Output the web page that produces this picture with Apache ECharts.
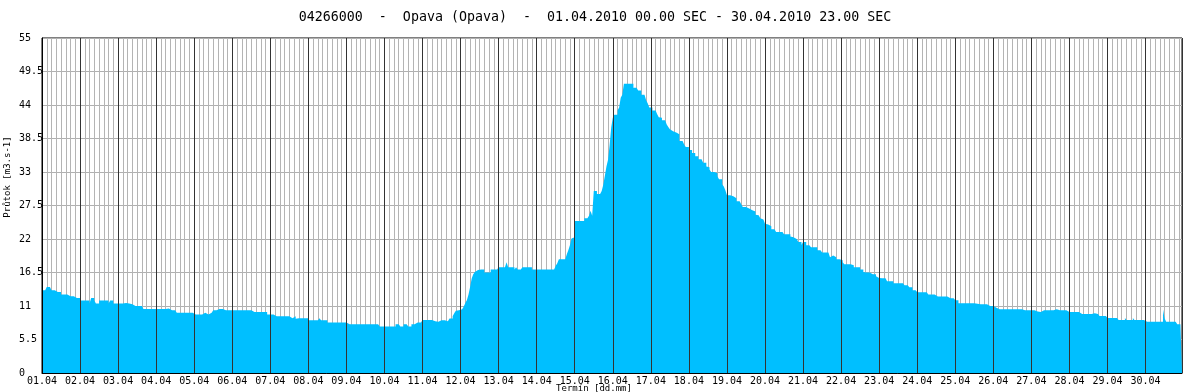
<!DOCTYPE html>
<html><head><meta charset="utf-8">
<script src="https://cdn.jsdelivr.net/npm/echarts@6/dist/echarts.min.js"></script>
<style>html,body{margin:0;padding:0;background:#fff}#c{width:1190px;height:392px}</style>
</head><body><div id="c"></div>
<script>
const titleText = '04266000  -  Opava (Opava)  -  01.04.2010 00.00 SEC - 30.04.2010 23.00 SEC';
const yAxisTitle = 'Průtok [m3.s-1]';
const xAxisTitle = 'Termín [dd.mm]';
const dayLabels = ['01.04','02.04','03.04','04.04','05.04','06.04','07.04','08.04','09.04','10.04',
  '11.04','12.04','13.04','14.04','15.04','16.04','17.04','18.04','19.04','20.04',
  '21.04','22.04','23.04','24.04','25.04','26.04','27.04','28.04','29.04','30.04'];
const yTicks = [0, 5.5, 11, 16.5, 22, 27.5, 33, 38.5, 44, 49.5, 55];
// hourly discharge, one line per day (01.04 ... 30.04)
const flow = [
13.6,13.6,13.6,14.1,14.1,13.8,13.6,13.6,13.6,13.3,13.3,13.3,12.9,12.9,12.9,12.9,12.9,12.6,12.6,12.6,12.6,12.3,12.3,12.3,
11.9,11.9,11.9,11.9,11.9,11.9,11.4,12.3,12.3,11.9,11.4,11.4,11.9,11.9,11.9,11.9,11.9,11.9,11.4,11.9,11.9,11.4,11.4,11.4,
11.4,11.4,11.4,11.4,11.5,11.4,11.4,11.3,11.3,11.0,11.0,11.0,11.0,11.0,11.0,11.0,10.5,10.5,10.5,10.5,10.5,10.5,10.5,10.5,
10.5,10.5,10.5,10.5,10.5,10.5,10.5,10.6,10.3,10.3,10.3,10.3,10.3,9.9,9.9,9.9,9.9,9.9,9.9,9.9,9.9,9.9,9.9,9.6,
9.6,9.6,9.6,9.6,9.6,9.6,9.9,9.6,9.6,9.9,9.9,9.9,10.3,10.3,10.3,10.5,10.5,10.5,10.5,10.3,10.3,10.3,10.3,10.3,
10.3,10.3,10.3,10.3,10.3,10.3,10.3,10.3,10.3,10.3,10.3,10.3,10.0,10.0,10.0,10.0,10.0,10.0,10.0,10.0,10.0,10.0,9.6,9.6,
9.6,9.6,9.6,9.3,9.6,9.3,9.3,9.3,9.3,9.3,9.3,9.3,9.0,9.0,9.0,9.3,8.9,9.0,9.0,9.0,9.0,9.0,9.0,9.0,
8.65,8.65,8.65,8.65,8.65,8.65,8.65,9.0,8.65,8.65,8.65,8.65,8.3,8.3,8.3,8.3,8.3,8.3,8.3,8.3,8.3,8.3,8.3,8.3,
8.0,8.0,8.0,8.0,8.0,8.0,8.0,8.0,8.0,8.0,8.0,8.0,8.0,8.0,8.0,8.0,8.3,8.0,8.0,8.0,8.0,7.65,7.65,7.65,
7.65,7.65,7.65,7.65,7.65,7.65,7.65,8.0,8.0,8.0,7.65,7.65,8.0,8.0,8.0,7.65,7.65,8.0,8.0,8.3,8.3,8.3,8.3,8.3,
8.7,8.7,8.7,8.7,8.7,8.7,8.95,8.5,8.5,8.4,8.4,8.65,8.65,8.65,8.65,8.5,8.5,8.95,8.95,9.3,9.8,10.2,10.3,10.1,
10.45,10.45,10.9,11.5,12.0,12.9,14.1,15.5,16.2,16.6,16.9,17.0,17.0,17.0,17.0,16.5,16.5,16.5,16.5,17.0,17.0,17.0,17.0,17.0,
17.35,17.35,17.35,17.35,17.35,18.17,17.35,17.35,17.35,17.35,17.0,17.35,17.0,17.0,17.0,17.35,17.35,17.35,17.35,17.35,17.35,17.0,17.0,17.0,
17.0,17.0,17.0,17.0,17.0,17.0,17.0,17.0,17.0,17.0,17.0,17.3,17.6,18.0,18.66,18.66,18.66,18.66,18.66,19.5,20.2,21.0,22.1,22.3,
24.96,24.96,24.96,24.96,24.96,24.96,25.4,25.4,25.4,25.8,26.65,25.8,29.9,29.9,29.4,29.4,29.4,29.9,30.9,32.4,33.9,35.0,37.4,40.3,
41.9,42.4,42.4,43.1,43.6,45.2,45.7,47.5,47.5,47.5,47.5,47.5,47.5,46.85,46.85,46.85,46.4,46.4,45.7,45.7,45.7,44.8,44.3,43.6,
43.6,43.1,43.1,42.8,42.5,42.0,41.9,41.5,41.5,41.5,40.8,40.4,40.0,39.7,39.7,39.5,39.2,39.2,38.1,38.1,37.8,37.5,37.1,37.1,
36.6,36.6,36.1,36.1,35.6,35.6,35.1,35.1,35.0,34.5,34.5,33.9,33.8,33.4,33.0,33.0,33.0,32.8,32.3,31.8,31.8,31.0,30.6,30.0,
29.2,29.2,29.2,29.0,28.7,28.7,28.2,28.2,27.9,27.7,27.25,27.25,27.25,27.0,26.7,26.7,26.7,26.5,26.0,25.9,25.9,25.4,25.2,24.96,
24.5,24.4,24.1,24.1,23.6,23.6,23.6,23.15,23.15,23.15,23.15,23.15,22.8,22.8,22.8,22.8,22.4,22.3,22.0,22.0,22.0,21.5,21.5,21.0,
21.5,21.5,20.96,20.96,20.96,20.63,20.63,20.63,20.63,20.14,20.14,20.14,19.8,19.8,19.8,19.8,19.48,18.99,19.3,18.99,18.99,18.66,18.66,18.66,
18.5,18.17,17.84,17.84,17.84,17.84,17.84,17.7,17.35,17.35,17.35,17.35,17.0,17.0,16.6,16.5,16.5,16.5,16.4,16.2,16.2,16.2,15.87,15.6,
15.54,15.54,15.54,15.54,15.54,15.05,15.05,15.05,15.05,14.72,14.72,14.72,14.72,14.72,14.72,14.72,14.39,14.39,14.2,14.06,14.06,13.57,13.57,13.57,
13.24,13.24,13.24,13.24,13.24,13.24,13.24,12.9,12.9,12.9,12.9,12.9,12.58,12.58,12.58,12.58,12.58,12.26,12.58,12.58,12.26,12.26,12.26,12.26,
11.93,11.93,11.44,11.44,11.44,11.44,11.44,11.44,11.44,11.44,11.44,11.44,11.3,11.35,11.44,11.27,11.27,11.27,11.27,11.27,11.0,11.0,11.0,11.0,
10.9,10.7,10.45,10.45,10.45,10.45,10.45,10.45,10.45,10.45,10.35,10.45,10.45,10.45,10.45,10.45,10.45,10.45,10.45,10.29,10.29,10.29,10.29,10.29,
10.29,10.29,10.29,10.1,10.02,10.02,10.29,10.29,10.29,10.29,10.29,10.29,10.45,10.29,10.29,10.45,10.45,10.29,10.29,10.29,10.29,10.29,10.02,10.02,
10.0,10.0,10.0,10.0,10.0,10.0,9.69,9.69,9.69,9.69,9.69,9.69,9.69,9.69,9.95,9.8,9.69,9.69,9.69,9.36,9.36,9.36,9.36,9.36,
9.03,9.03,9.03,9.03,9.03,9.03,9.03,8.7,8.7,8.7,8.7,9.03,8.7,8.7,8.7,8.7,9.03,8.7,8.7,8.7,8.7,8.7,8.7,8.7,
8.4,8.4,8.4,8.4,8.4,8.1,8.4,8.7,8.4,8.4,8.4,10.45,9.0,8.4,8.4,8.4,8.4,8.1,8.4,8.4,8.0,8.0,8.0,8.0
];

const FONT = '"DejaVu Sans Mono", monospace';
const HOURS_PER_DAY = 24;
const chart = echarts.init(document.getElementById('c'), null, {renderer: 'canvas'});
const seriesData = flow.map((v, i) => [i, v]);
const xMax = flow.length - 1;

chart.setOption({
  animation: false,
  backgroundColor: '#ffffff',
  title: {
    text: titleText, left: 'center', top: 6,
    textStyle: {fontFamily: FONT, fontSize: 13.3, fontWeight: 'normal', color: '#000'}
  },
  grid: {left: 42, right: 8, top: 38, bottom: 19, show: true, borderColor: '#000', borderWidth: 1, backgroundColor: '#fff'},
  xAxis: [
    {type: 'value', min: 0, max: xMax, interval: 3, position: 'bottom', z: 0,
     axisLine: {show: false}, axisTick: {show: false}, axisLabel: {show: false},
     splitLine: {show: true, lineStyle: {color: '#b4b4b4', width: 1}}},
    {type: 'value', min: 0, max: xMax, interval: HOURS_PER_DAY, position: 'bottom', z: 10,
     axisLine: {show: true, lineStyle: {color: '#000', width: 1}}, axisTick: {show: false},
     axisLabel: {show: true, margin: 3, fontFamily: FONT, fontSize: 10, color: '#000',
       formatter: v => (v % HOURS_PER_DAY === 0 && dayLabels[v / HOURS_PER_DAY]) ? dayLabels[v / HOURS_PER_DAY] : ''},
     splitLine: {show: true, lineStyle: {color: '#333', width: 1}}}
  ],
  yAxis: [
    {type: 'value', min: yTicks[0], max: yTicks[yTicks.length - 1], interval: yTicks[1] - yTicks[0], position: 'left', z: 0,
     axisLine: {show: false}, axisTick: {show: false}, axisLabel: {show: false},
     splitLine: {show: true, lineStyle: {color: '#b0b0b0', width: 1}}},
    {type: 'value', min: yTicks[0], max: yTicks[yTicks.length - 1], interval: yTicks[1] - yTicks[0], position: 'left', z: 10,
     axisLine: {show: true, lineStyle: {color: '#000', width: 1}}, axisTick: {show: false},
     axisLabel: {show: true, align: 'left', margin: 23, padding: [4, 0, 0, 0], fontFamily: FONT, fontSize: 10, color: '#000',
       formatter: v => String(v)},
     splitLine: {show: false}}
  ],
  graphic: [
    {type: 'text', x: 8, y: 177, rotation: Math.PI / 2, z: 20,
     style: {text: yAxisTitle, font: '9px "DejaVu Sans Mono"', fill: '#000', textAlign: 'center', textVerticalAlign: 'middle'}},
    {type: 'text', x: 594, y: 384, z: 20,
     style: {text: xAxisTitle, font: '9px "DejaVu Sans Mono"', fill: '#000', textAlign: 'center', textVerticalAlign: 'top'}}
  ],
  series: [{
    type: 'line', xAxisIndex: 1, yAxisIndex: 1, step: 'end', data: seriesData,
    symbol: 'none', lineStyle: {width: 0, color: '#00BFFF'},
    areaStyle: {color: '#00BFFF', opacity: 1}, z: 2
  }]
});
</script></body></html>
